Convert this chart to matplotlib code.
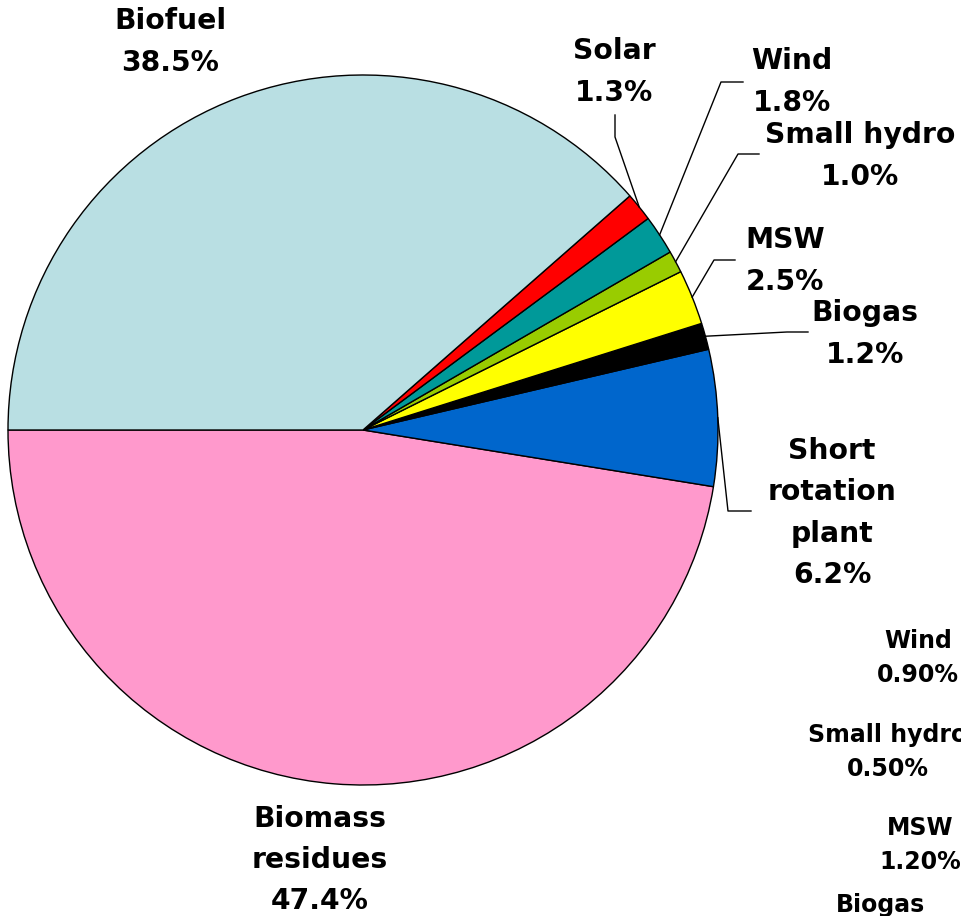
import numpy as np
import matplotlib
matplotlib.use("Agg")
import matplotlib.pyplot as plt

# ---- data ----
names = ["Biomass\nresidues", "Short\nrotation\nplant", "Biogas", "MSW",
         "Small hydro", "Wind", "Solar", "Biofuel"]
values = [47.4, 6.2, 1.2, 2.5, 1.0, 1.8, 1.3, 38.5]
colors = ["#FF99CC", "#0066CC", "#000000", "#FFFF00",
          "#99CC00", "#009999", "#FF0000", "#B9DFE3"]

# stray labels (partially outside the canvas in the original)
stray_names = ["Wind", "Small hydro", "MSW", "Biogas"]
stray_values = ["0.90%", "0.50%", "1.20%", ""]

W, H = 961, 916
fig = plt.figure(figsize=(W / 100, H / 100), dpi=100)
ax = fig.add_axes([0, 0, 1, 1])

def Y(y):
    return H - y

cx, cy, R = 363, 430, 355
wedges, _ = ax.pie(values, colors=colors, startangle=180, counterclock=True,
                   center=(cx, Y(cy)), radius=R,
                   wedgeprops=dict(edgecolor="black", linewidth=1.0))
ax.set_xlim(0, W)
ax.set_ylim(0, H)
ax.set_aspect("equal")
ax.axis("off")

FONT = "DejaVu Sans"
fs = 20.3

# label centers (px) and leader elbow/end points (px)
label_pos = {
    "Biomass\nresidues": (320, 860),
    "Short\nrotation\nplant": (832, 513),
    "Biogas": (865, 334),
    "MSW": (785, 261),
    "Small hydro": (860, 156),
    "Wind": (792, 82),
    "Solar": (614, 72),
    "Biofuel": (170, 42),
}
leaders = {
    "Short\nrotation\nplant": [(728, 511), (751, 511)],
    "Biogas": [(787, 332), (808, 332)],
    "MSW": [(714, 260), (735, 260)],
    "Small hydro": [(738, 154), (759, 154)],
    "Wind": [(721, 82), (743, 82)],
    "Solar": [(615, 137), (615, 115)],
}

for w, name, val in zip(wedges, names, values):
    x, y = label_pos[name]
    ax.text(x, Y(y), f"{name}\n{val:.1f}%", ha="center", va="center",
            fontsize=fs, fontweight="bold", family=FONT, linespacing=1.6)
    if name in leaders:
        mid = np.deg2rad((w.theta1 + w.theta2) / 2)
        sx = cx + R * np.cos(mid)
        sy = Y(cy) + R * np.sin(mid)
        pts = [(sx, sy)] + [(px, Y(py)) for px, py in leaders[name]]
        xs, ys = zip(*pts)
        ax.plot(xs, ys, color="black", lw=1.0)

stray_pos = [(918, 658), (888, 752), (920, 845), (880, 905)]
for (x, y), n, v in zip(stray_pos, stray_names, stray_values):
    txt = f"{n}\n{v}" if v else n
    ax.text(x, Y(y), txt, ha="center", va="center", fontsize=17,
            fontweight="bold", family=FONT, linespacing=1.5, clip_on=False)

fig.savefig("out.png", dpi=100)
